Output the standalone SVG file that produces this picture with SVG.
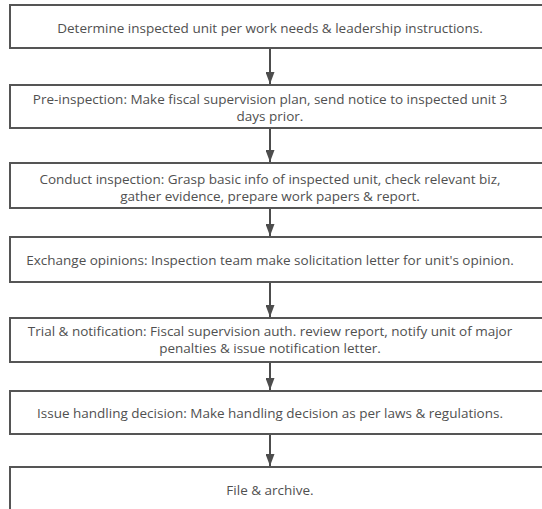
<svg xmlns="http://www.w3.org/2000/svg" width="542" height="509" viewBox="0 0 542 509">
  <defs>
    <marker id="arrow" viewBox="0 0 12 9" refX="12" refY="4.5" markerWidth="12" markerHeight="9" markerUnits="userSpaceOnUse" orient="auto">
      <path d="M0,0 L12,4.5 L0,9 Z" fill="#4d4d4d"/>
    </marker>
    <style>
      .box { fill: #ffffff; stroke: #555555; stroke-width: 2; }
      .label { font-family: "Open Sans", "Noto Sans", sans-serif; font-size: 13.5px; fill: #505050; text-anchor: middle; dominant-baseline: central; }
      .conn { stroke: #4d4d4d; stroke-width: 2; fill: none; }
    </style>
  </defs>
  <rect width="542" height="509" fill="#ffffff"/>

  <g id="step1">
    <rect class="box" x="10" y="5" width="545" height="43"/>
    <text class="label" x="270" y="28">Determine inspected unit per work needs &amp; leadership instructions.</text>
  </g>
  <g id="step2">
    <rect class="box" x="10" y="85" width="545" height="43"/>
    <text class="label" x="270" y="99">Pre-inspection: Make fiscal supervision plan, send notice to inspected unit 3</text>
    <text class="label" x="270" y="116">days prior.</text>
  </g>
  <g id="step3">
    <rect class="box" x="10" y="163" width="545" height="45"/>
    <text class="label" x="270" y="179">Conduct inspection: Grasp basic info of inspected unit, check relevant biz,</text>
    <text class="label" x="270" y="196">gather evidence, prepare work papers &amp; report.</text>
  </g>
  <g id="step4">
    <rect class="box" x="10" y="237" width="545" height="45"/>
    <text class="label" x="270" y="260">Exchange opinions: Inspection team make solicitation letter for unit's opinion.</text>
  </g>
  <g id="step5">
    <rect class="box" x="10" y="318" width="545" height="44"/>
    <text class="label" x="270" y="331">Trial &amp; notification: Fiscal supervision auth. review report, notify unit of major</text>
    <text class="label" x="270" y="348">penalties &amp; issue notification letter.</text>
  </g>
  <g id="step6">
    <rect class="box" x="10" y="391" width="545" height="43"/>
    <text class="label" x="270" y="413">Issue handling decision: Make handling decision as per laws &amp; regulations.</text>
  </g>
  <g id="step7">
    <rect class="box" x="10" y="467" width="545" height="60"/>
    <text class="label" x="270" y="490">File &amp; archive.</text>
  </g>

  <g id="connectors">
    <line class="conn" x1="270" y1="49" x2="270" y2="84" marker-end="url(#arrow)"/>
    <line class="conn" x1="270" y1="129" x2="270" y2="162" marker-end="url(#arrow)"/>
    <line class="conn" x1="270" y1="209" x2="270" y2="236" marker-end="url(#arrow)"/>
    <line class="conn" x1="270" y1="283" x2="270" y2="317" marker-end="url(#arrow)"/>
    <line class="conn" x1="270" y1="363" x2="270" y2="390" marker-end="url(#arrow)"/>
    <line class="conn" x1="270" y1="435" x2="270" y2="466" marker-end="url(#arrow)"/>
  </g>
</svg>
